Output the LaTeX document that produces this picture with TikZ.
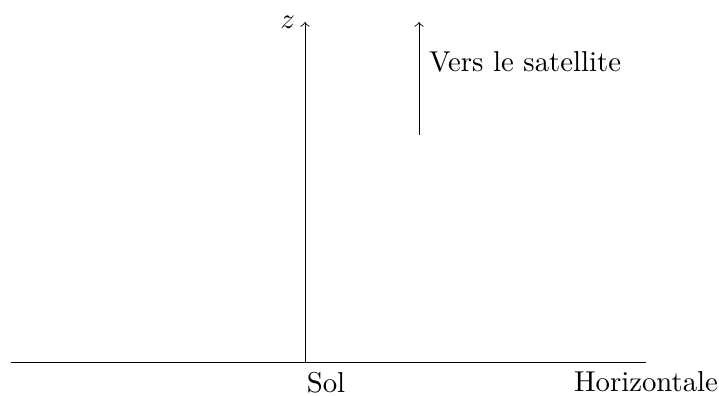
\documentclass[tikz,border=0pt]{standalone}
\begin{document}
\begin{tikzpicture}[
  x=0.01222cm, y=-0.01222cm,
  line width=0.3pt,
  axe/.style={->},
  lbl/.style={inner sep=0.333em}
]
\useasboundingbox (0,0) rectangle (719,396);
\coordinate (hgauche) at (11,362);
\coordinate (hdroite) at (646,362);
\coordinate (sol) at (305,362);
\coordinate (ztip) at (305,22);
\coordinate (satbas) at (419,135);
\coordinate (sathaut) at (419,22);
\draw (hgauche) -- (hdroite);
\draw[axe] (sol) -- (ztip);
\draw[axe] (satbas) -- (sathaut);
\node[lbl, left] (zlbl) at (ztip) {$z$};
\node[lbl, below right, xshift=-0.1cm] (sollbl) at (sol) {Sol};
\node[lbl, below] (horiz) at (hdroite) {Horizontale};
\node[lbl, right] (sat) at (419,62) {Vers le satellite};
\end{tikzpicture}
\end{document}
